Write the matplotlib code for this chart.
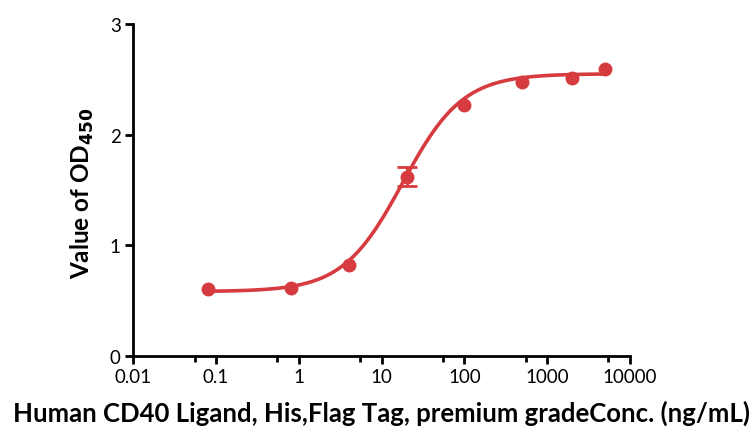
import numpy as np
import matplotlib
matplotlib.use("Agg")
import matplotlib.pyplot as plt
from matplotlib.ticker import FixedLocator, NullFormatter

# Data
conc = [0.08, 0.8, 4, 20, 100, 500, 2000, 5000]
od450 = [0.606, 0.610, 0.818, 1.62, 2.267, 2.476, 2.515, 2.59]
od_err = [0.0, 0.0, 0.0, 0.085, 0.0, 0.0, 0.0, 0.0]

# 4PL fit parameters
fit_bottom = 0.58
fit_top = 2.55
fit_ec50 = 18.0
fit_hill = 1.2

xticks = [0.01, 0.1, 1, 10, 100, 1000, 10000]
xtick_labels = ["0.01", "0.1", "1", "10", "100", "1000", "10000"]
yticks = [0, 1, 2, 3]
minor_xticks = [0.055, 0.55, 5.5, 55, 550, 5500]

red = "#D63B3F"
font = "Lato"

fig = plt.figure(figsize=(7.54, 4.35), dpi=100)
ax = fig.add_axes([0.1768, 0.18, 0.6587, 0.7625])

xs = np.logspace(np.log10(min(conc)), np.log10(max(conc)), 400)
ys = fit_bottom + (fit_top - fit_bottom) / (1 + (fit_ec50 / xs) ** fit_hill)
ax.plot(xs, ys, color=red, lw=2.6, zorder=3, solid_capstyle="round")
ax.plot(conc, od450, "o", color=red, ms=9, zorder=4)
err_idx = [i for i, e in enumerate(od_err) if e > 0]
ax.errorbar([conc[i] for i in err_idx], [od450[i] for i in err_idx],
            yerr=[od_err[i] for i in err_idx], fmt="none", ecolor=red,
            elinewidth=2, capsize=7, capthick=2, zorder=4)

ax.set_xscale("log")
ax.set_xlim(0.01, 10000)
ax.set_ylim(0, 3)
ax.xaxis.set_major_locator(FixedLocator(xticks))
ax.set_xticklabels(xtick_labels)
ax.xaxis.set_minor_locator(FixedLocator(minor_xticks))
ax.xaxis.set_minor_formatter(NullFormatter())
ax.set_yticks(yticks)
ax.set_yticklabels([str(v) for v in yticks])

for s in ["top", "right"]:
    ax.spines[s].set_visible(False)
for s in ["left", "bottom"]:
    ax.spines[s].set_linewidth(2.0)
ax.tick_params(axis="both", which="major", direction="out", length=6, width=2,
               labelsize=13.5, pad=3)
ax.tick_params(axis="x", which="minor", direction="out", length=4, width=2)
for lab in ax.get_xticklabels() + ax.get_yticklabels():
    lab.set_family(font)

fig.text(0.506, 0.05, "Human CD40 Ligand, His,Flag Tag, premium gradeConc. (ng/mL)",
         ha="center", va="center", fontsize=18.5, fontweight="bold", family=font)
fig.text(0.109, 0.555, "Value of OD$_{\\mathbf{450}}$", rotation=90,
         ha="center", va="center", fontsize=17.5, fontweight="bold", family=font)

fig.savefig("out.png", dpi=100)
